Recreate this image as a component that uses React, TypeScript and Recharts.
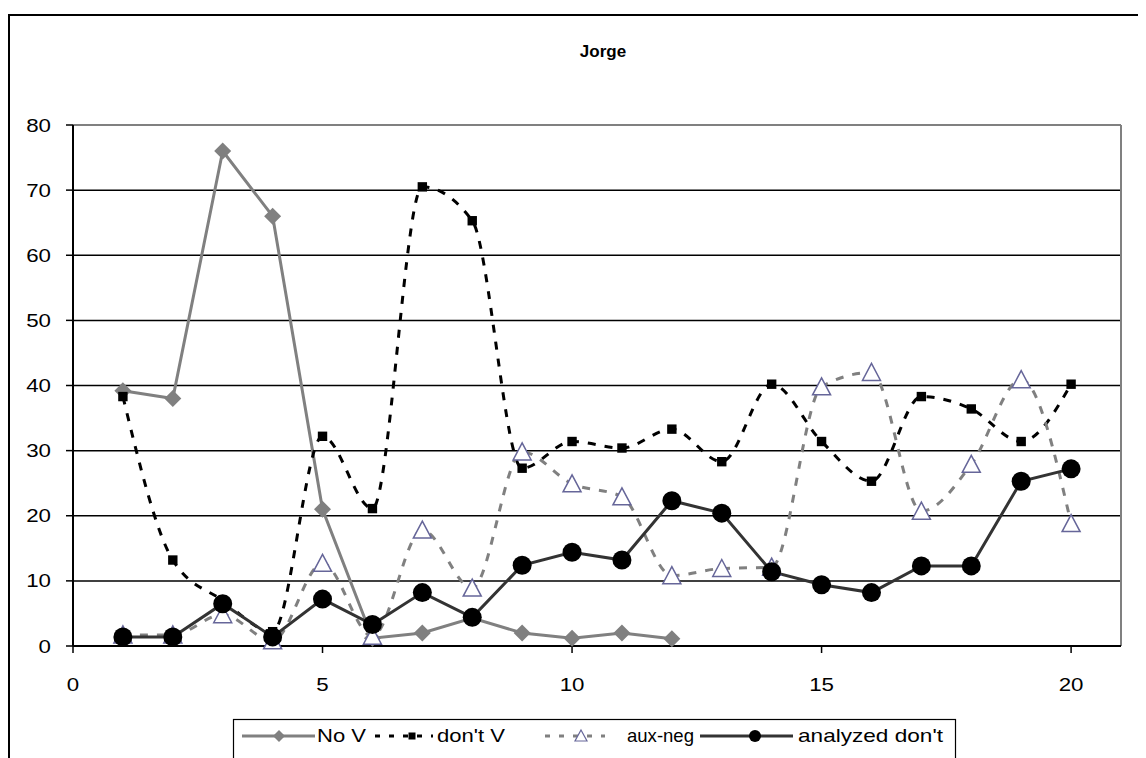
import { CartesianGrid, Line, LineChart, ReferenceLine, XAxis, YAxis } from "recharts";

const xs = [1, 2, 3, 4, 5, 6, 7, 8, 9, 10, 11, 12, 13, 14, 15, 16, 17, 18, 19, 20];
const noV = [39.2, 38, 76, 66, 21, 1.2, 2, 4.3, 2, 1.2, 2, 1.1];
const dontV = [38.3, 13.2, 7, 2.2, 32.2, 21.1, 70.5, 65.3, 27.3, 31.4, 30.4, 33.3, 28.3, 40.2, 31.4, 25.3, 38.3, 36.4, 31.4, 40.2];
const auxNeg = [1.7, 1.7, 4.8, 0.8, 12.7, 1.5, 17.8, 8.9, 29.8, 24.9, 22.9, 10.8, 11.9, 12.1, 39.8, 42, 20.7, 27.9, 40.9, 18.8];
const analyzed = [1.4, 1.4, 6.5, 1.4, 7.2, 3.3, 8.2, 4.4, 12.4, 14.4, 13.2, 22.3, 20.4, 11.4, 9.4, 8.2, 12.3, 12.3, 25.3, 27.2];
const xTicks = [0, 5, 10, 15, 20];
const yTicks = [0, 10, 20, 30, 40, 50, 60, 70, 80];

const data = xs.map((x, i) => ({ x, noV: noV[i], dontV: dontV[i], auxNeg: auxNeg[i], analyzed: analyzed[i] }));

const FONT = "'Liberation Sans', Arial, sans-serif";
const SX = 1.24; // the reference text is stretched horizontally

const YTick = ({ x, y, payload }: any) => (
  <text transform={`translate(${x},${y + 6.5}) scale(${SX},1)`} textAnchor="end" fontSize={18} fontFamily={FONT} fill="#000">
    {payload.value}
  </text>
);

const XTick = ({ x, y, payload }: any) => (
  <text transform={`translate(${x},${y + 37.5}) scale(${SX},1)`} textAnchor="middle" fontSize={18} fontFamily={FONT} fill="#000">
    {payload.value}
  </text>
);

const ok = (p: any) => p.value != null && p.cy != null && !isNaN(p.cy);

const Diamond = (p: any) =>
  ok(p) ? (
    <polygon key={p.index} points={`${p.cx},${p.cy - 8.5} ${p.cx + 8.5},${p.cy} ${p.cx},${p.cy + 8.5} ${p.cx - 8.5},${p.cy}`} fill="#808080" />
  ) : (
    <g key={p.index} />
  );

const Square = (p: any) =>
  ok(p) ? <rect key={p.index} x={p.cx - 4.7} y={p.cy - 4.7} width={9.4} height={9.4} fill="#000" /> : <g key={p.index} />;

const Triangle = (p: any) =>
  ok(p) ? (
    <polygon key={p.index} points={`${p.cx},${p.cy - 9} ${p.cx + 9},${p.cy + 8} ${p.cx - 9},${p.cy + 8}`} fill="#fff" stroke="#666699" strokeWidth={1.5} />
  ) : (
    <g key={p.index} />
  );

const Circle = (p: any) => (ok(p) ? <circle key={p.index} cx={p.cx} cy={p.cy} r={9.5} fill="#000" /> : <g key={p.index} />);

function LegendBox() {
  const cy = 17;
  const label = (x: number, s: string, w: number) => (
    <text
      transform={`translate(${x},${cy + 6.4}) scale(${SX},1)`}
      fontSize={18}
      fontFamily={FONT}
      fill="#000"
      textLength={w / SX}
      lengthAdjust="spacingAndGlyphs"
    >
      {s}
    </text>
  );
  return (
    <svg width={760} height={60} style={{ position: "absolute", left: 225, top: 711, overflow: "visible" }}>
      <rect x={0.5} y={0.5} width={722} height={80} fill="#fff" stroke="#000" strokeWidth={1.2} />
      <line x1={9} x2={82} y1={cy} y2={cy} stroke="#808080" strokeWidth={3} />
      <polygon points={`46,${cy - 6} 52,${cy} 46,${cy + 6} 40,${cy}`} fill="#808080" />
      {label(84, "No V", 49)}
      <line x1={142} x2={200} y1={cy} y2={cy} stroke="#000" strokeWidth={3} strokeDasharray="5 9" />
      <rect x={175.5} y={cy - 3.5} width={7} height={7} fill="#000" />
      {label(204, "don't V", 68)}
      <line x1={312} x2={372} y1={cy} y2={cy} stroke="#808080" strokeWidth={3} strokeDasharray="5 9" />
      <polygon points={`348,${cy - 6} 354,${cy + 5} 342,${cy + 5}`} fill="#fff" stroke="#666699" strokeWidth={1.2} />
      {label(394, "aux-neg", 67)}
      <line x1={467} x2={560} y1={cy} y2={cy} stroke="#333" strokeWidth={3} />
      <circle cx={522} cy={cy} r={6} fill="#000" />
      {label(565, "analyzed don't", 145)}
    </svg>
  );
}

export default function App() {
  return (
    <div style={{ position: "relative", width: 1138, height: 750, overflow: "hidden", background: "#fff" }}>
      <div style={{ position: "absolute", left: 0, top: 6, width: 1400, height: 1000, border: "2px solid #000", boxSizing: "border-box" }} />
      <div
        style={{
          position: "absolute",
          left: 595,
          top: 34,
          transform: "translateX(-50%)",
          fontFamily: FONT,
          fontWeight: "bold",
          fontSize: 17,
          lineHeight: "20px",
        }}
      >
        Jorge
      </div>
      <div style={{ position: "absolute", left: 0, top: 0 }}>
        <LineChart width={1138} height={750} data={data} margin={{ top: 117, right: 25, bottom: 82, left: 0 }}>
          <CartesianGrid vertical={false} stroke="#000" strokeWidth={1.5} />
          <XAxis
            dataKey="x"
            type="number"
            domain={[0, 21]}
            ticks={xTicks}
            allowDataOverflow
            height={30}
            tickSize={7}
            tickMargin={0}
            tick={<XTick />}
            axisLine={{ stroke: "#000", strokeWidth: 2 }}
            tickLine={{ stroke: "#000", strokeWidth: 1.5 }}
          />
          <YAxis
            type="number"
            domain={[0, 80]}
            ticks={yTicks}
            width={65}
            tickSize={7}
            tickMargin={15}
            tick={<YTick />}
            axisLine={{ stroke: "#000", strokeWidth: 2 }}
            tickLine={{ stroke: "#000", strokeWidth: 1.5 }}
          />
          <ReferenceLine y={80} stroke="#808080" strokeWidth={2} />
          <ReferenceLine x={21} stroke="#808080" strokeWidth={2} />
          <Line dataKey="noV" type="linear" stroke="#808080" strokeWidth={3} dot={Diamond} activeDot={false} isAnimationActive={false} />
          <Line
            dataKey="dontV"
            type="monotone"
            stroke="#000"
            strokeWidth={3}
            strokeDasharray="8 9"
            dot={Square}
            activeDot={false}
            isAnimationActive={false}
          />
          <Line
            dataKey="auxNeg"
            type="monotone"
            stroke="#808080"
            strokeWidth={3}
            strokeDasharray="8 9"
            dot={Triangle}
            activeDot={false}
            isAnimationActive={false}
          />
          <Line dataKey="analyzed" type="linear" stroke="#333" strokeWidth={3} dot={Circle} activeDot={false} isAnimationActive={false} />
        </LineChart>
      </div>
      <LegendBox />
    </div>
  );
}
